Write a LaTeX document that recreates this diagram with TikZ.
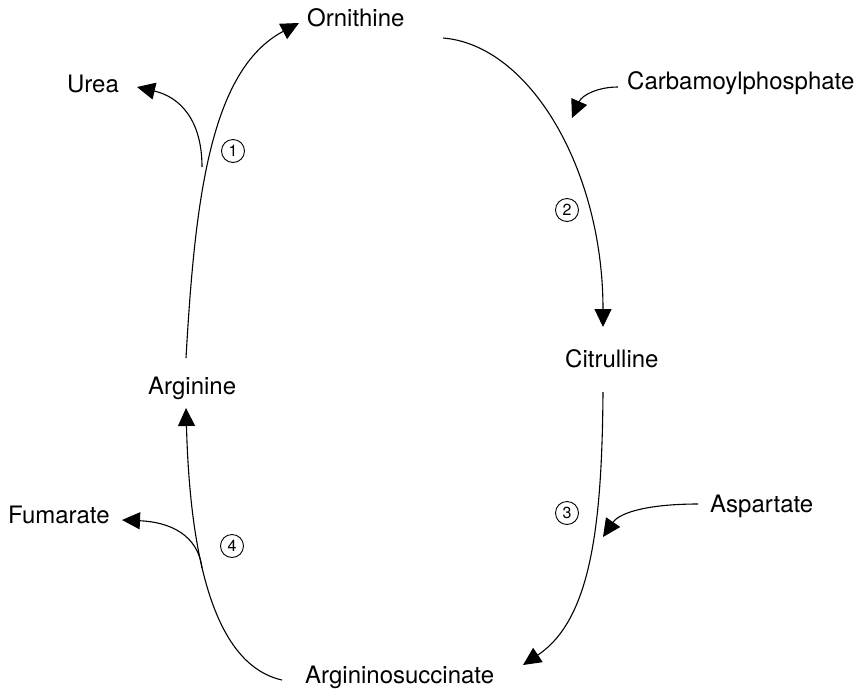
\documentclass[tikz,border=0pt]{standalone}
\usepackage{fontspec}
\setmainfont{TeX Gyre Heros}
\usetikzlibrary{arrows.meta,calc}
\begin{document}
\begin{tikzpicture}[x=1pt,y=-1pt,
  lbl/.style={inner sep=0pt, anchor=base west, font=\fontsize{24}{28}\selectfont},
  num/.style={draw, circle, line width=0.9pt, minimum size=23pt, inner sep=0pt, font=\fontsize{16}{18}\selectfont},
  conn/.style={line width=1.1pt, -{Triangle[length=18pt,width=17pt]}}
]
\useasboundingbox (0,0) rectangle (863,689);

% metabolites
\node[lbl] (Orn) at (307,26) {Ornithine};
\node[lbl] (Urea) at (67,92) {Urea};
\node[lbl] (Carb) at (627,89) {Carbamoylphosphate};
\node[lbl] (Cit) at (565,367) {Citrulline};
\node[lbl] (Arg) at (148,394) {Arginine};
\node[lbl] (Fum) at (8,523) {Fumarate};
\node[lbl] (Asp) at (710,512) {Aspartate};
\node[lbl] (Asu) at (305,683) {Argininosuccinate};

% enzyme numbers
\node[num] (n1) at (233,151) {1};
\node[num] (n2) at (567,210) {2};
\node[num] (n3) at (567,513) {3};
\node[num] (n4) at (232,546) {4};

% branch points on the cycle
\coordinate (uB) at (202,167);
\coordinate (fB) at (202,568);

% main cycle
\draw[conn] ($(Arg.base west)+(38,-36)$) .. controls (195,200) and (210,70) .. ($(Orn.base west)+(-8,-3)$);
\draw[conn] ($(Orn.base west)+(136,12)$) .. controls (530,45) and (603,170) .. ($(Cit.base west)+(38,-40)$);
\draw[conn] ($(Cit.base west)+(38,25)$) .. controls (602,530) and (590,620) .. ($(Asu.base west)+(218,-18)$);
\draw[conn] ($(Asu.base west)+(-23,-3)$) .. controls (215,665) and (190,560) .. ($(Arg.base west)+(38,14)$);

% side reactions
\draw[conn] (uB) .. controls (202,120) and (180,97) .. ($(Urea.base west)+(70,-5)$);
\draw[conn] ($(Carb.base west)+(-9,-2)$) .. controls (598,87) and (582,95) .. (572,118);
\draw[conn] ($(Asp.base west)+(-12,-8)$) .. controls (650,504) and (620,512) .. (603,537);
\draw[conn] (fB) .. controls (198,535) and (170,522) .. ($(Fum.base west)+(114,-3)$);
\end{tikzpicture}
\end{document}
